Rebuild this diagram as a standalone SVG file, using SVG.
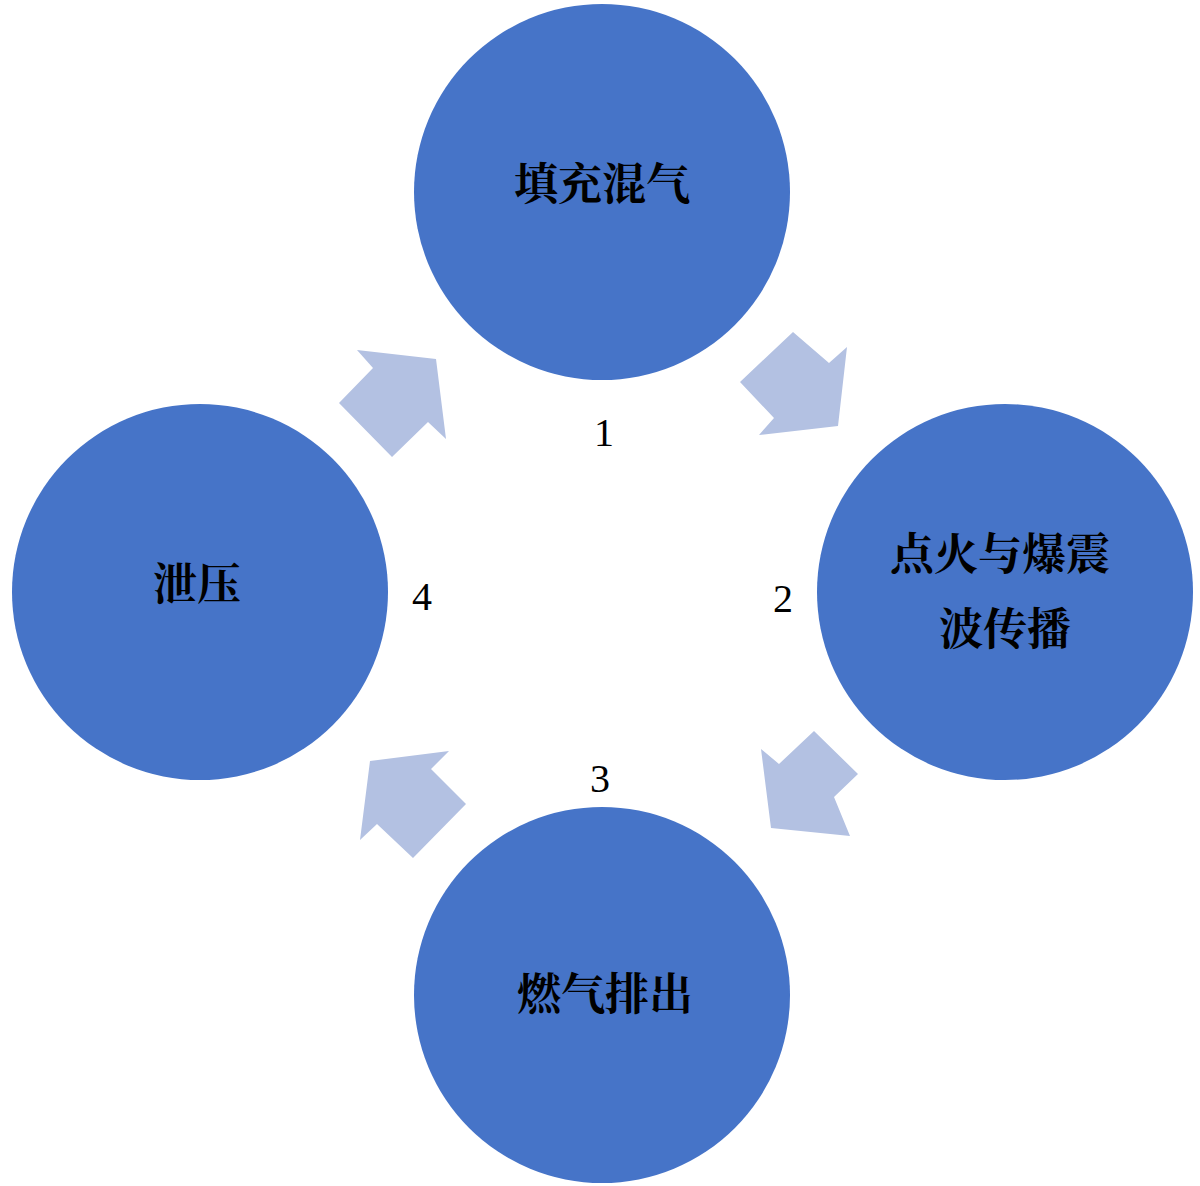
<svg xmlns="http://www.w3.org/2000/svg" width="1200" height="1186" viewBox="0 0 1200 1186">
<style>
.c{fill:#4674C8}
.a{fill:#B3C1E2}
.t{font-family:"Liberation Serif","Noto Serif CJK SC","Noto Sans CJK SC",serif;font-size:44px;font-weight:bold;fill:#000;text-anchor:middle}
.n{font-family:"Liberation Serif",serif;font-size:40px;fill:#000;text-anchor:middle}
</style>
<rect width="1200" height="1186" fill="#fff"/>
<g id="connectors">
<polygon class="a" points="357,350 436,359 446,439 428,422 392,457 339,403 373,368"/>
<polygon class="a" points="793,332 829,363 847,347 838,426 759,435 774,418 740,382"/>
<polygon class="a" points="814,731 858,774 834,797 850,836 771,828 761,749 779,764"/>
<polygon class="a" points="449,751 431,769 466,804 413,858 377,824 360,840 370,761"/>
</g>
<g id="n1"><circle class="c" cx="602" cy="192" r="188"/><text class="t" x="602" y="200">填充混气</text></g>
<g id="n2"><circle class="c" cx="1005" cy="592" r="188"/><text class="t" x="1000" y="570">点火与爆震</text><text class="t" x="1005" y="645">波传播</text></g>
<g id="n3"><circle class="c" cx="602" cy="995" r="188"/><text class="t" x="605" y="1010">燃气排出</text></g>
<g id="n4"><circle class="c" cx="200" cy="592" r="188"/><text class="t" x="197" y="600">泄压</text></g>
<g id="labels">
<text class="n" x="604" y="446">1</text>
<text class="n" x="783" y="612">2</text>
<text class="n" x="600" y="792">3</text>
<text class="n" x="422" y="610">4</text>
</g>
</svg>
